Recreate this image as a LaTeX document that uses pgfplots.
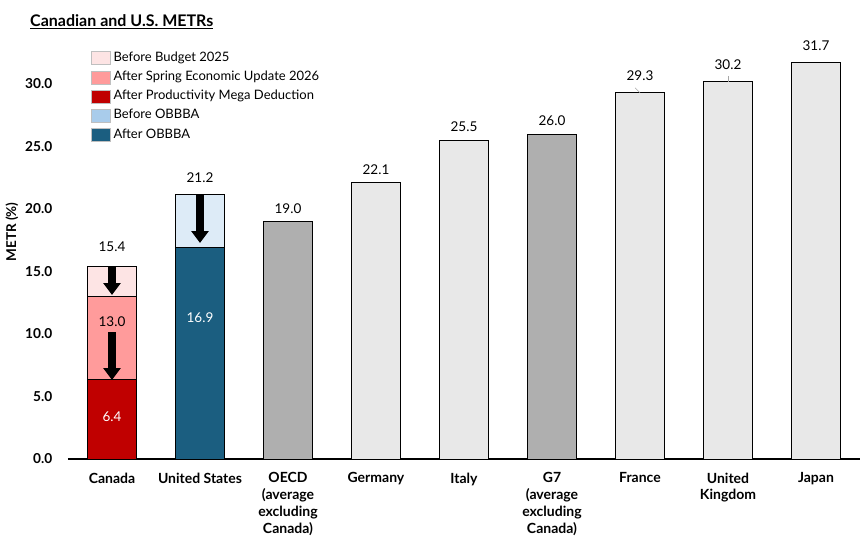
\documentclass[border=0pt]{standalone}
\usepackage{fontspec}
\setmainfont{Lato}
\usepackage{pgfplots}
\pgfplotsset{compat=1.18}
\usetikzlibrary{arrows.meta}
\definecolor{cdark}{HTML}{C00000}
\definecolor{cmid}{HTML}{FF9B9B}
\definecolor{clight}{HTML}{FDE4E4}
\definecolor{ulight}{HTML}{DDEBF7}
\definecolor{uleg}{HTML}{A9CCEB}
\definecolor{udark}{HTML}{1B5E80}
\definecolor{gmid}{HTML}{AFAFAF}
\definecolor{glight}{HTML}{E8E8E8}
\pgfplotsset{/pgf/number format/assume math mode=true}
\begin{document}
\begin{tikzpicture}
\begin{axis}[
  at={(0,0)}, anchor=south west, scale only axis,
  width=792pt, height=437.5pt,
  xmin=-0.5, xmax=8.5, ymin=0, ymax=35,
  axis x line=bottom, axis y line=left,
  x axis line style={line width=2pt,-},
  y axis line style={draw=none},
  tick style={draw=none},
  xtick={0,1,2,3,4,5,6,7,8},
  xticklabels={Canada,United States,{OECD\\(average\\excluding\\Canada)},Germany,Italy,{G7\\(average\\excluding\\Canada)},France,{United\\Kingdom},Japan},
  ytick={0,5,10,15,20,25,30},
  yticklabels={0.0,5.0,10.0,15.0,20.0,25.0,30.0},
  xticklabel style={align=center, font=\bfseries\fontsize{14}{16.9}\selectfont, anchor=north, yshift=-8pt},
  yticklabel style={font=\bfseries\fontsize{13.7}{15}\selectfont, xshift=-10pt},
  ylabel={METR (\%)},
  ylabel style={at={(axis description cs:-0.0707,0.519)}, anchor=center, font=\bfseries\fontsize{13.5}{15}\selectfont},
  clip=false,
  legend cell align=left,
  legend image code/.code={\draw[#1] (0pt,-6.5pt) rectangle (19pt,6.5pt);},
  legend style={at={(rel axis cs:0.029,0.933)}, anchor=north west, draw=none, fill=none,
    font=\fontsize{13}{15}\selectfont, inner sep=0pt, row sep=5.25pt, column sep=2pt,
    nodes={inner sep=1pt, text height=9pt, text depth=3pt}},
  every node near coord/.style={font=\fontsize{13.5}{15}\selectfont, anchor=south, inner sep=0pt, yshift=8pt, text=black},
  nodes near coords style={/pgf/number format/fixed, /pgf/number format/fixed zerofill, /pgf/number format/precision=1},
]
\addlegendimage{fill=clight, draw=black!25}
\addlegendentry{Before Budget 2025}
\addlegendimage{fill=cmid, draw=black!25}
\addlegendentry{After Spring Economic Update 2026}
\addlegendimage{fill=cdark, draw=black!25}
\addlegendentry{After Productivity Mega Deduction}
\addlegendimage{fill=uleg, draw=black!25}
\addlegendentry{Before OBBBA}
\addlegendimage{fill=udark, draw=black!25}
\addlegendentry{After OBBBA}

% Canada
\addplot[ybar, bar width=49pt, bar shift=0pt, fill=clight, draw=black, line width=0.8pt, forget plot, nodes near coords, every node near coord/.append style={yshift=6pt}] coordinates {(0,15.4)};
\addplot[ybar, bar width=49pt, bar shift=0pt, fill=cmid, draw=black, line width=0.8pt, forget plot] coordinates {(0,13.0)};
\addplot[ybar, bar width=49pt, bar shift=0pt, fill=cdark, draw=black, line width=0.8pt, forget plot] coordinates {(0,6.4)};
% United States
\addplot[ybar, bar width=49pt, bar shift=0pt, fill=ulight, draw=black, line width=0.8pt, forget plot, nodes near coords, every node near coord/.append style={yshift=3pt}] coordinates {(1,21.2)};
\addplot[ybar, bar width=49pt, bar shift=0pt, fill=udark, draw=black, line width=0.8pt, forget plot] coordinates {(1,16.9)};
% averages
\addplot[ybar, bar width=49pt, bar shift=0pt, fill=gmid, draw=black, line width=0.8pt, forget plot, nodes near coords] coordinates {(2,19.0) (5,26.0)};
% countries
\addplot[ybar, bar width=49pt, bar shift=0pt, fill=glight, draw=black, line width=0.8pt, forget plot, nodes near coords] coordinates {(3,22.1) (4,25.5)};
\addplot[ybar, bar width=49pt, bar shift=0pt, fill=glight, draw=black, line width=0.8pt, forget plot, nodes near coords, every node near coord/.append style={yshift=3.5pt}] coordinates {(6,29.3) (7,30.2) (8,31.7)};

% inner labels
\node[font=\fontsize{13.5}{15}\selectfont, text=black] at (axis cs:0,10.95) {13.0};
\node[font=\fontsize{13.5}{15}\selectfont, text=white] at (axis cs:0,3.35) {6.4};
\node[font=\fontsize{13.5}{15}\selectfont, text=white] at (axis cs:1,11.3) {16.9};

% arrows
\draw[line width=8pt, -{Triangle[width=17pt,length=12pt]}] (axis cs:0,15.4) -- (axis cs:0,13.12);
\draw[line width=8pt, -{Triangle[width=17pt,length=12pt]}] (axis cs:0,10.16) -- (axis cs:0,6.32);
\draw[line width=8pt, -{Triangle[width=17pt,length=12pt]}] (axis cs:1,21.2) -- (axis cs:1,17.28);

% leader lines
\draw[black!35, line width=0.6pt] (axis cs:6,29.3) -- ++(-5pt,5pt);
\draw[black!35, line width=0.6pt] (axis cs:7,30.2) -- ++(0pt,5pt);
\end{axis}
\node[anchor=base west, inner sep=0pt, font=\bfseries\fontsize{16}{18}\selectfont] at (-38pt,432pt) {\underline{Canadian and U.S. METRs}};
\pgfresetboundingbox
\path (-68pt,-88pt) rectangle (799pt,459pt);
\end{tikzpicture}
\end{document}
